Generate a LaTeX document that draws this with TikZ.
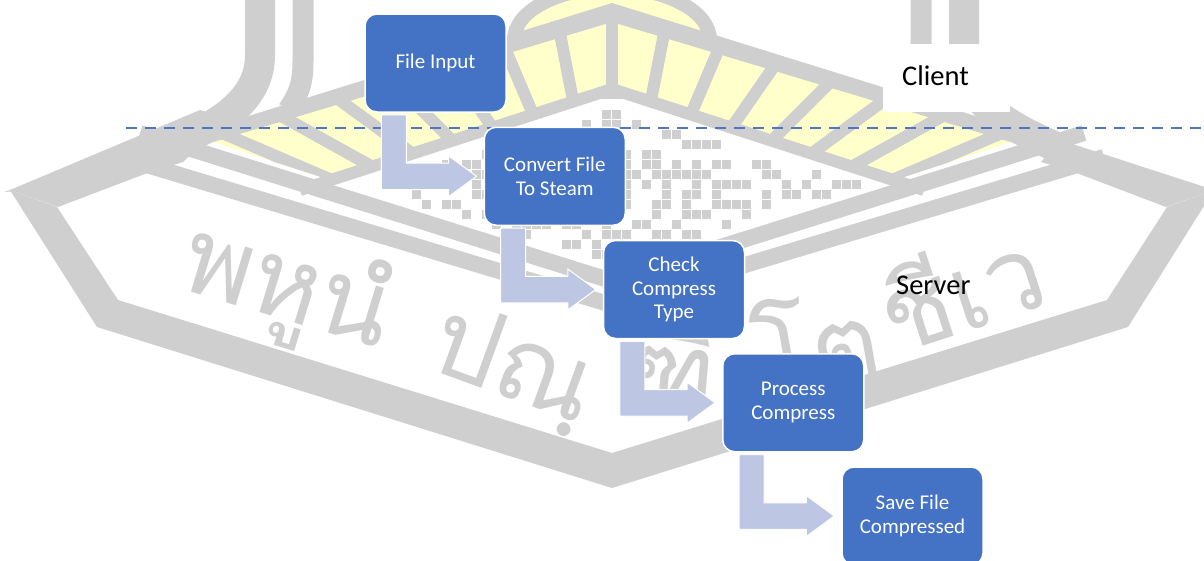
\documentclass[tikz,border=0pt]{standalone}
\usepackage{fontspec}
\setmainfont{Carlito}
\newfontfamily\thaifont[Script=Thai]{Loma}
\usetikzlibrary{calc}
\definecolor{boxblue}{RGB}{68,114,196}
\definecolor{arrowfill}{RGB}{189,199,228}
\definecolor{wmgray}{RGB}{207,207,207}
\definecolor{wmyellow}{RGB}{255,255,204}
\definecolor{dashblue}{RGB}{80,118,190}
\tikzset{
  stepbox/.style={draw=white, line width=1.5pt, fill=boxblue, rounded corners=12pt,
    minimum width=141pt, minimum height=98pt, text=white, align=center, inner sep=0pt,
    font=\fontsize{21}{23.8}\selectfont},
  bentarrow/.style={fill=arrowfill, draw=white, line width=1pt, line join=miter},
  wmtext/.style={text=wmgray, font=\thaifont\fontsize{106}{106}\selectfont, inner sep=0pt},
  sidelabel/.style={font=\fontsize{28.5}{30}\selectfont, text=black, inner sep=0pt, anchor=base west},
  divider/.style={draw=dashblue, line width=1.2pt, dash pattern=on 11pt off 8pt},
}
\begin{document}
\begin{tikzpicture}[x=1pt,y=-1pt]
\useasboundingbox (0,0) rectangle (1204,560);
\fill[white] (0,0) rectangle (1204,560);
% ---------------- watermark ----------------
\begin{scope}
\clip (0,0) rectangle (1204,560);
% dome
\filldraw[fill=wmyellow, draw=wmgray, line width=14pt] (612,40) ellipse [x radius=98pt, y radius=52pt];
% yellow rays band
\fill[wmyellow] (210,141) -- (612,20) -- (1014,141) -- (895,180) -- (612,95) -- (330,180) -- cycle;
\begin{scope}
  \clip (210,141) -- (612,20) -- (1014,141) -- (895,180) -- (612,95) -- (330,180) -- cycle;
  \coordinate (F) at (612,300);
  \foreach \dx in {-385,-335,-285,-236,-188,-140,-92,-45,0,45,92,140,188,236,285,335,385} {
    \draw[wmgray, line width=12pt] (F) -- ($(F)!3!(612+\dx, {56+0.3*abs(\dx)})$);
  }
\end{scope}
% hexagon frame
\fill[wmgray] (4,192) -- (612,3) -- (1220,192) -- (1167,189) -- (612,22) -- (57,189) -- cycle;
\fill[wmgray] (10,190) -- (97,327) -- (612,488) -- (1128,327) -- (1214,190) -- (1167,207) -- (1107,300) -- (612,453) -- (118,300) -- (57,207) -- cycle;
% shoulders
\fill[wmgray] (10,190) -- (200,110) -- (228,118) -- (183,162) -- (150,172) -- (58,207) -- cycle;
\fill[wmgray] (1214,190) -- (1060,140) -- (1041,162) -- (1074,172) -- (1166,207) -- cycle;
% lower roof and ribbon bands
\draw[wmgray, line width=12pt] (300,190) -- (612,89) -- (924,190);
\draw[wmgray, line width=16pt] (120,157) -- (612,305) -- (1104,157);
\draw[wmgray, line width=16pt] (140,133) -- (612,281) -- (1084,133);
% towers
\draw[wmgray, line width=30pt] (260,-5) -- (260,55) .. controls (260,100) and (220,125) .. (165,148);
\draw[wmgray, line width=21pt] (303,-5) -- (303,62) .. controls (303,85) and (298,95) .. (288,110);
\draw[wmgray, line width=30pt] (964,-5) -- (964,55) .. controls (964,100) and (1004,125) .. (1059,148);
\draw[wmgray, line width=21pt] (921,-5) -- (921,62) .. controls (921,85) and (926,95) .. (936,110);
% maze blocks
\pgfmathsetseed{7}
\foreach \i in {0,...,58} {
  \foreach \j in {0,...,17} {
    \pgfmathsetmacro\bx{322+\i*10}
    \pgfmathsetmacro\by{100+\j*10}
    \pgfmathtruncatemacro\keep{and(and(rnd<0.5, (\by+4) > (110+0.3*abs(\bx+4-612))), (\by+4) < (262-0.31*abs(\bx+4-612)))}
    \ifnum\keep=1 \fill[wmgray] (\bx,\by) rectangle ++(9,9); \fi
  }
}
% motto
\node[wmtext, rotate=-17] (m1) at (287,290) {พหูนํ};
\node[wmtext, rotate=-20] (m2) at (512,368) {ปณฺ};
\node[wmtext, rotate=-5] (m3) at (673,365) {ฑิ};
\node[wmtext, rotate=10] (m4) at (815,340) {โต};
\node[wmtext, rotate=18] (m5) at (960,287) {ชีเว};
\end{scope}
% ---------------- diagram ----------------
\fill[white] (883,44) rectangle (1010,112);
\coordinate (dl) at (126,128);
\coordinate (dr) at (1204,128);
\draw[divider] (dl) -- (dr);

\node[stepbox] (b1) at (435.5,63) {File Input};
\node[stepbox] (b2) at (554.75,176.25) {Convert File\\To Steam};
\node[stepbox] (b3) at (674,289.5) {Check\\Compress\\Type};
\node[stepbox] (b4) at (793.25,402.75) {Process\\Compress};
\node[stepbox] (b5) at (912.5,516) {Save File\\Compressed};

\foreach \a/\b in {b1/b2,b2/b3,b3/b4,b4/b5} {
  \coordinate (s1) at ($(\a.south west)+(17,2)$);
  \coordinate (s2) at ($(\a.south west)+(42,2)$);
  \coordinate (h1) at ($(\b.west)+(0,13.25)$);
  \coordinate (h2) at ($(\b.west)+(0,-13.25)$);
  \filldraw[bentarrow] (s1) -- (s1 |- h1) -- ($(\b.west)+(-35,13.25)$) -- ($(\b.west)+(-35,20.5)$)
     -- ($(\b.west)+(-7,0)$) -- ($(\b.west)+(-35,-20.5)$) -- ($(\b.west)+(-35,-13.25)$)
     -- (s2 |- h2) -- (s2) -- cycle;
}

\node[sidelabel] (client) at (902,85) {Client};
\node[sidelabel] (server) at (896,294) {Server};
\end{tikzpicture}
\end{document}
